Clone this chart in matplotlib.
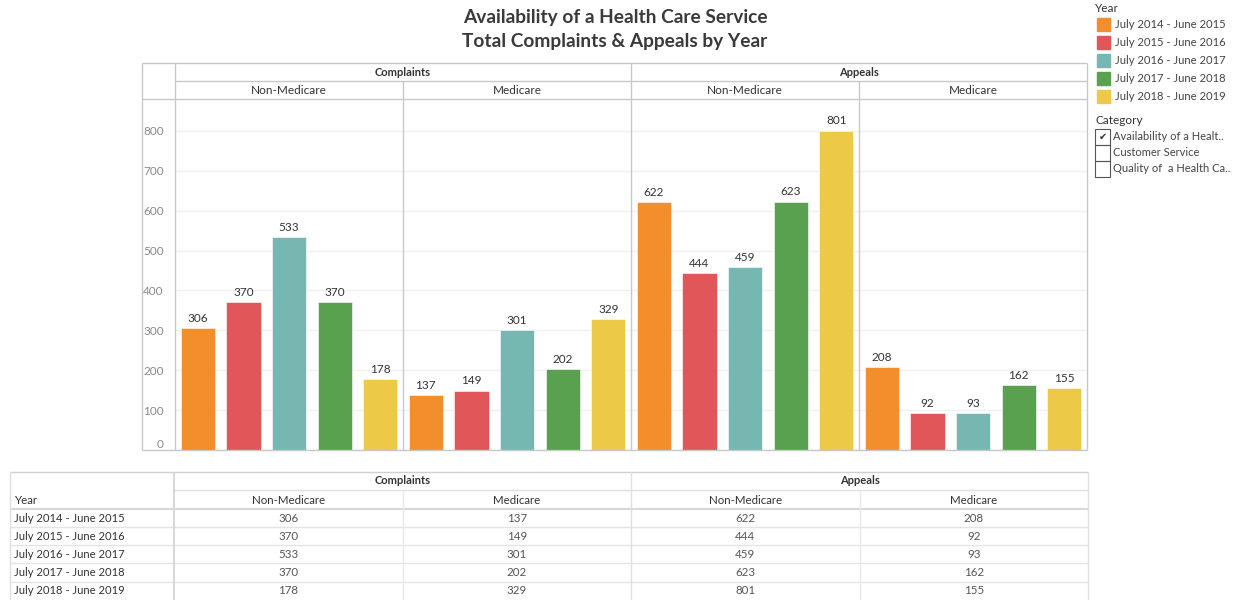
import matplotlib
matplotlib.use("Agg")
import matplotlib.pyplot as plt
from matplotlib.patches import Rectangle

plt.rcParams['font.family'] = ['Lato', 'DejaVu Sans']

# Data
years = ['July 2014 - June 2015', 'July 2015 - June 2016', 'July 2016 - June 2017',
         'July 2017 - June 2018', 'July 2018 - June 2019']
groups = ['Complaints', 'Appeals']
plans = ['Non-Medicare', 'Medicare']
complaints_non_medicare = [306, 370, 533, 370, 178]
complaints_medicare = [137, 149, 301, 202, 329]
appeals_non_medicare = [622, 444, 459, 623, 801]
appeals_medicare = [208, 92, 93, 162, 155]
categories = ['Availability of a Healt..', 'Customer Service', 'Quality of  a Health Ca..']

panels = [complaints_non_medicare, complaints_medicare, appeals_non_medicare, appeals_medicare]
colors = ['#F28E2B', '#E15759', '#76B7B2', '#59A14F', '#EDC948']

W, H = 1241, 600
fig = plt.figure(figsize=(W / 100, H / 100), dpi=100)

def fx(x):
    return x / W

def fy(y):
    return 1 - y / H

text_col = '#333333'
grid_col = '#f0f0f0'
line_col = '#c8c8c8'

# Title
fig.text(fx(615), fy(17), 'Availability of a Health Care Service', ha='center', va='center',
         fontsize=13.8, fontweight='bold', color='#3a3a3a')
fig.text(fx(615), fy(42), 'Total Complaints & Appeals by Year', ha='center', va='center',
         fontsize=13.8, fontweight='bold', color='#3a3a3a')

# Bar panels
left0, pw, top, bottom = 175, 228, 99, 450
ymax = 880
for i, vals in enumerate(panels):
    ax = fig.add_axes([fx(left0 + pw * i), fy(bottom), fx(pw), (bottom - top) / H])
    x = range(len(vals))
    ax.bar(x, vals, width=0.75, color=colors, edgecolor='white', linewidth=0.4, zorder=3)
    for xi, v in zip(x, vals):
        ax.annotate(str(v), (xi, v), xytext=(0, 3), textcoords='offset points',
                    ha='center', va='bottom', fontsize=8.5, color=text_col)
    ax.set_xlim(-0.5, len(vals) - 0.5)
    ax.set_ylim(0, ymax)
    ax.set_yticks(range(0, 900, 100))
    ax.grid(axis='y', color=grid_col, linewidth=1, zorder=0)
    ax.set_xticks([])
    for s in ax.spines.values():
        s.set_visible(False)
    ax.tick_params(axis='y', length=0)
    if i == 0:
        ax.tick_params(axis='y', labelsize=8.5, labelcolor='#8a8a8a', pad=8)
        lbls = ax.get_yticklabels()
        lbls[0].set_verticalalignment('bottom')
    else:
        ax.set_yticklabels([])

# Overlay for borders, headers, table and legend
ov = fig.add_axes([0, 0, 1, 1])
ov.set_xlim(0, W)
ov.set_ylim(H, 0)
ov.axis('off')
ov.patch.set_alpha(0)

def hline(y, x0, x1, c=line_col, lw=1):
    ov.plot([x0, x1], [y, y], color=c, lw=lw, solid_capstyle='butt')

def vline(x, y0, y1, c=line_col, lw=1):
    ov.plot([x, x], [y0, y1], color=c, lw=lw, solid_capstyle='butt')

# chart frame
hline(63, 142, 1087)
hline(450, 142, 1087)
hline(81, 175, 1087)
hline(99, 142, 1087)
vline(142, 63, 450)
vline(1087, 63, 450)
vline(175, 63, 450)
vline(631, 63, 450)
vline(403, 81, 450)
vline(859, 81, 450)
for g, name in enumerate(groups):
    ov.text(175 + 456 * g + 228, 72, name, ha='center', va='center', fontsize=8,
            fontweight='bold', color=text_col)
    for p, pl in enumerate(plans):
        ov.text(175 + 456 * g + 228 * p + 114, 90, pl, ha='center', va='center',
                fontsize=8.5, color=text_col)

# Table
tl, tc, tr = 10, 174, 1088
col_w = (tr - tc) / 4
row_y = [518, 536, 554, 573, 591]
tab_cols = [complaints_non_medicare, complaints_medicare, appeals_non_medicare, appeals_medicare]
hline(472, tl, tr, c='#d0d0d0')
hline(490, tc, tr, c='#e0e0e0')
hline(509, tl, tr, c='#d8d8d8', lw=1.5)
for k in range(4):
    hline(row_y[k] + 9, tl, tr, c='#e4e4e4')
vline(tl, 472, 600, c='#e0e0e0')
vline(tc, 472, 600, c='#d8d8d8', lw=1.5)
vline(tr, 472, 600, c='#e0e0e0')
vline(tc + 2 * col_w, 472, 600, c='#e0e0e0')
vline(tc + col_w, 490, 600, c='#e8e8e8')
vline(tc + 3 * col_w, 490, 600, c='#e8e8e8')
for g, name in enumerate(groups):
    ov.text(tc + 2 * col_w * g + col_w, 481, name, ha='center', va='center', fontsize=8,
            fontweight='bold', color=text_col)
    for p, pl in enumerate(plans):
        ov.text(tc + 2 * col_w * g + col_w * p + col_w / 2, 500, pl, ha='center',
                va='center', fontsize=8.3, color=text_col)
ov.text(14, 500, 'Year', ha='left', va='center', fontsize=8.3, color=text_col)
for r, yl in enumerate(years):
    ov.text(14, row_y[r], yl, ha='left', va='center', fontsize=8.1, color=text_col)
    for c, col in enumerate(tab_cols):
        ov.text(tc + col_w * c + col_w / 2, row_y[r], str(col[r]), ha='center',
                va='center', fontsize=8.3, color='#555555')

# Legend
ov.text(1095, 8, 'Year', ha='left', va='center', fontsize=8.5, color=text_col)
for k, (yl, c) in enumerate(zip(years, colors)):
    yy = 24 + 18.2 * k
    ov.add_patch(Rectangle((1097, yy - 6.5), 13, 13, color=c))
    ov.text(1115, yy, yl, ha='left', va='center', fontsize=8.1, color='#444444')
ov.text(1095, 121, 'Category', ha='left', va='center', fontsize=8.5, color=text_col)
for k, cat in enumerate(categories):
    yy = 137 + 16 * k
    ov.add_patch(Rectangle((1095, yy - 8), 15, 16, fill=False, edgecolor='#555555', lw=0.8))
    ov.text(1113, yy, cat, ha='left', va='center', fontsize=8, color='#444444')
    if k == 0:
        ov.text(1102.5, yy, '\u2714', ha='center', va='center', fontsize=7,
                color='#333333', family='DejaVu Sans')

fig.savefig('out.png', dpi=100)
